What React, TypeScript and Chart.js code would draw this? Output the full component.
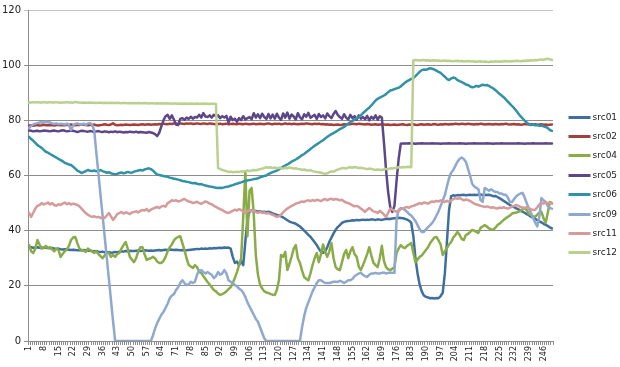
import React, { useEffect, useRef } from 'react';
import { Chart, registerables } from 'chart.js';

Chart.register(...registerables);

// 250 sample points, labelled 1..250 (every 7th label shown)
const categories: string[] = Array.from({ length: 250 }, (_, i) => String(i + 1));
const yTicks = [0, 20, 40, 60, 80, 100, 120];

const seriesNames = ['src01', 'src02', 'src04', 'src05', 'src06', 'src09', 'src11', 'src12'];
const seriesColors = ['#3F6F9E', '#A3403D', '#89AC48', '#5C4788', '#3292A5', '#8FA8CF', '#D59B9A', '#B9D08E'];

const src01 = [
  34.2, 34.0, 33.8, 33.9, 34.0, 33.8, 33.7, 33.9, 33.8, 33.7,
  33.6, 33.7, 33.5, 33.4, 33.5, 33.3, 33.2, 33.3, 33.2, 33.1,
  33.0, 33.1, 33.0, 32.9, 33.0, 32.8, 33.0, 32.9, 32.8, 32.7,
  32.6, 32.5, 32.6, 32.4, 32.3, 32.4, 32.2, 32.3, 32.2, 32.0,
  32.1, 32.3, 32.2, 32.4, 32.5, 32.4, 32.6, 32.5, 32.7, 32.6,
  32.6, 32.7, 32.8, 32.6, 32.7, 32.9, 32.8, 32.7, 32.8, 32.7,
  32.8, 32.9, 33.0, 32.8, 33.0, 33.1, 33.0, 33.2, 33.1, 33.0,
  33.1, 33.0, 32.9, 33.0, 32.8, 32.9, 33.0, 33.1, 33.2, 33.3,
  33.4, 33.3, 33.5, 33.4, 33.5, 33.4, 33.6, 33.5, 33.7, 33.6,
  33.7, 33.8, 33.7, 33.9, 33.8, 33.9, 33.5, 30.5, 28.3, 28.8,
  27.5, 29.0, 27.5, 36.0, 44.0, 47.0, 47.3, 47.0, 47.2, 46.9,
  47.0, 46.8, 46.9, 46.7, 46.9, 46.6, 46.3, 46.0, 45.7, 45.5,
  45.2, 44.8, 44.3, 43.8, 43.3, 43.0, 42.8, 42.5, 42.0, 41.5,
  40.8, 40.0, 39.3, 38.5, 37.8, 36.8, 35.8, 34.8, 33.5, 32.3,
  32.0, 32.5, 34.0, 36.0, 37.5, 39.0, 40.3, 41.3, 42.0, 42.8,
  43.2, 43.4, 43.5, 43.6, 43.8, 43.7, 43.9, 43.8, 43.9, 44.0,
  43.9, 44.0, 43.9, 44.1, 44.0, 43.9, 44.1, 44.0, 43.9, 44.1,
  44.2, 44.3, 44.2, 44.4, 44.5, 44.6, 44.7, 44.6, 44.5, 44.3,
  44.0, 43.6, 42.8, 38.0, 30.0, 24.5, 20.5, 18.0, 16.5, 16.0,
  15.8, 15.5, 15.6, 15.4, 15.6, 15.5, 16.3, 17.5, 24.5, 36.0,
  47.5, 52.5, 52.8, 52.7, 52.9, 52.8, 52.9, 53.0, 52.8, 52.9,
  53.0, 52.9, 53.0, 52.9, 53.0, 53.1, 52.9, 53.0, 52.9, 53.0,
  52.8, 52.5, 52.6, 52.2, 51.8, 51.3, 50.8, 50.3, 49.8, 49.3,
  48.9, 48.5, 48.1, 47.7, 47.3, 46.9, 46.5, 46.0, 45.6, 45.1,
  44.7, 44.3, 43.8, 43.4, 43.0, 42.5, 42.1, 41.7, 41.2, 40.8,
];

const src02 = [
  78.1, 78.2, 78.0, 78.2, 78.3, 78.1, 78.2, 78.4, 78.2, 78.3,
  78.2, 78.3, 78.1, 78.3, 78.4, 78.2, 78.3, 78.2, 78.4, 78.3,
  78.5, 78.3, 78.2, 78.4, 78.3, 78.5, 78.4, 78.3, 78.2, 78.4,
  78.3, 78.5, 78.2, 78.1, 78.3, 78.4, 78.6, 78.4, 78.3, 78.5,
  78.9, 78.4, 78.2, 78.3, 78.4, 78.3, 78.5, 78.4, 78.3, 78.4,
  78.5, 78.4, 78.3, 78.5, 78.6, 78.4, 78.5, 78.6, 78.4, 78.5,
  78.6, 78.5, 78.7, 78.6, 78.8, 78.7, 78.6, 78.8, 78.7, 78.9,
  78.8, 78.7, 78.9, 78.8, 78.7, 78.9, 78.8, 78.9, 78.7, 78.8,
  78.9, 78.8, 78.7, 78.9, 78.8, 78.7, 78.9, 78.8, 78.7, 78.6,
  78.7, 78.8, 78.6, 78.7, 78.8, 78.6, 78.7, 78.8, 78.7, 78.6,
  78.8, 78.7, 78.6, 78.8, 78.7, 78.6, 78.7, 78.8, 78.6, 78.7,
  78.8, 78.7, 78.6, 78.8, 78.9, 78.7, 78.6, 78.8, 78.7, 78.8,
  78.6, 78.7, 78.9, 78.7, 78.8, 78.6, 78.8, 78.7, 78.6, 78.7,
  78.8, 78.7, 78.9, 78.8, 78.7, 78.6, 78.8, 78.7, 78.8, 78.6,
  78.7, 78.5, 78.6, 78.4, 78.5, 78.3, 78.4, 78.5, 78.3, 78.4,
  78.6, 78.5, 78.7, 78.6, 78.8, 78.7, 78.6, 78.8, 78.7, 78.6,
  78.5, 78.7, 78.6, 78.4, 78.5, 78.6, 78.4, 78.5, 78.6, 78.5,
  78.4, 78.5, 78.3, 78.4, 78.5, 78.3, 78.4, 78.5, 78.6, 78.4,
  78.3, 78.5, 78.4, 78.6, 78.4, 78.3, 78.5, 78.6, 78.4, 78.5,
  78.6, 78.4, 78.5, 78.7, 78.5, 78.4, 78.6, 78.5, 78.7, 78.6,
  78.5, 78.7, 78.6, 78.8, 78.7, 78.6, 78.8, 78.7, 78.6, 78.8,
  78.7, 78.6, 78.5, 78.7, 78.6, 78.8, 78.7, 78.5, 78.6, 78.7,
  78.6, 78.5, 78.7, 78.6, 78.5, 78.7, 78.6, 78.8, 78.6, 78.5,
  78.6, 78.7, 78.5, 78.6, 78.4, 78.5, 78.7, 78.6, 78.5, 78.6,
  78.5, 78.6, 78.4, 78.5, 78.6, 78.4, 78.5, 78.3, 78.4, 78.5,
];

const src04 = [
  34.8, 32.5, 31.9, 33.5, 36.6, 35.0, 33.5, 33.7, 34.5, 33.7,
  34.0, 33.2, 32.5, 33.5, 33.0, 30.5, 31.5, 32.5, 33.2, 34.5,
  36.6, 37.5, 37.7, 35.5, 33.5, 33.0, 32.8, 32.3, 33.5, 33.0,
  32.5, 31.9, 32.5, 31.5, 30.8, 30.0, 31.0, 32.0, 31.9, 30.5,
  31.2, 30.5, 31.5, 31.9, 33.5, 34.8, 35.9, 33.5, 30.5, 29.5,
  28.6, 30.0, 32.5, 34.0, 34.0, 31.5, 29.4, 29.8, 30.0, 30.5,
  30.0, 28.8, 28.3, 28.3, 29.0, 30.5, 32.5, 34.0, 35.0, 36.5,
  37.3, 37.7, 38.0, 35.5, 33.0, 30.0, 27.6, 27.0, 26.5, 27.5,
  26.8, 25.0, 24.7, 23.5, 22.5, 21.4, 20.5, 19.5, 18.5, 18.0,
  17.2, 16.7, 17.0, 17.4, 18.0, 18.8, 19.5, 21.0, 22.8, 25.0,
  27.5, 30.0, 45.0, 61.3, 38.0, 54.5, 55.5, 46.0, 31.0, 24.0,
  20.5, 19.0, 18.0, 17.6, 17.4, 17.0, 16.8, 16.7, 18.5, 22.0,
  31.2, 30.5, 32.3, 25.7, 28.0, 30.5, 33.5, 34.8, 30.0, 28.3,
  25.5, 23.2, 22.5, 22.0, 24.5, 27.5, 30.0, 31.9, 28.6, 31.5,
  35.0, 32.3, 30.5, 32.5, 35.5, 30.0, 26.8, 26.0, 25.7, 28.5,
  31.5, 33.0, 30.0, 32.5, 34.0, 31.5, 30.5, 27.0, 25.7, 27.5,
  29.4, 31.5, 34.0, 31.0, 28.3, 27.5, 26.8, 30.0, 34.5, 29.0,
  26.8, 26.0, 25.7, 26.2, 26.8, 32.0, 33.5, 34.8, 34.0, 33.7,
  34.5, 35.0, 35.5, 32.0, 28.6, 29.5, 30.5, 31.0, 32.0, 33.0,
  34.0, 35.5, 36.5, 37.5, 37.7, 36.5, 35.0, 31.2, 32.5, 33.7,
  35.0, 35.9, 37.5, 38.4, 39.5, 38.5, 37.0, 36.6, 38.4, 38.8,
  39.5, 40.3, 40.0, 39.5, 39.2, 41.0, 41.5, 42.0, 41.5, 40.8,
  40.5, 40.3, 41.0, 42.0, 42.5, 43.2, 43.9, 44.5, 45.0, 45.5,
  46.2, 46.4, 46.6, 46.8, 47.2, 47.8, 48.2, 47.5, 46.0, 45.7,
  45.2, 45.0, 45.8, 46.5, 46.8, 44.5, 42.8, 46.5, 50.4, 50.0,
];

const src05 = [
  76.3, 76.2, 76.0, 76.1, 76.2, 76.0, 76.1, 76.3, 76.2, 76.1,
  76.0, 76.2, 76.3, 76.1, 76.0, 76.2, 76.4, 76.2, 76.0, 76.1,
  76.3, 76.2, 76.0, 75.8, 76.0, 76.2, 76.1, 76.0, 75.9, 76.1,
  76.0, 75.8, 76.0, 76.1, 75.9, 75.8, 76.0, 75.9, 75.7, 75.9,
  75.8, 76.0, 75.7, 75.9, 75.8, 75.6, 75.8, 75.7, 75.9, 75.8,
  75.7, 75.9, 75.6, 75.8, 75.7, 75.6, 75.5, 75.8, 75.6, 75.4,
  75.0, 74.3, 75.5, 77.8, 80.0, 81.5, 82.0, 80.5, 81.8, 80.2,
  78.5, 78.3, 80.5, 80.8, 80.2, 81.0, 80.5, 81.3, 80.6, 81.2,
  81.0, 82.0, 81.0, 82.6, 81.4, 81.2, 81.8, 81.0, 82.0, 81.5,
  81.8, 80.8, 81.5, 81.0, 81.6, 79.2, 81.3, 80.1, 80.6, 79.5,
  80.8, 80.1, 81.5, 80.3, 80.8, 81.2, 80.4, 82.6, 81.0, 82.2,
  80.8, 82.4, 81.2, 80.5, 82.3, 80.7, 82.1, 80.6, 82.4, 81.0,
  80.2, 82.5, 81.0, 82.8, 80.6, 82.1, 81.4, 80.3, 82.6, 81.1,
  80.4, 82.2, 81.3, 82.7, 80.9, 81.5, 82.0, 80.5, 82.3, 81.2,
  81.8, 80.7, 82.5, 81.5, 80.8, 82.3, 83.4, 82.0, 81.2, 80.5,
  82.2, 81.0, 80.3, 82.0, 80.8, 81.5, 80.2, 81.8, 80.6, 81.2,
  80.4, 81.6, 80.0, 81.3, 80.5, 81.8, 80.2, 81.5, 81.0, 72.0,
  62.0, 54.0, 48.5, 46.8, 49.0, 58.0, 66.0, 71.5, 71.6, 71.6,
  71.6, 71.7, 71.6, 71.6, 71.5, 71.6, 71.6, 71.7, 71.6, 71.6,
  71.6, 71.6, 71.7, 71.6, 71.6, 71.6, 71.5, 71.6, 71.6, 71.6,
  71.7, 71.6, 71.6, 71.6, 71.6, 71.7, 71.6, 71.6, 71.5, 71.6,
  71.6, 71.6, 71.7, 71.6, 71.6, 71.6, 71.6, 71.6, 71.7, 71.6,
  71.6, 71.5, 71.6, 71.6, 71.6, 71.7, 71.6, 71.6, 71.6, 71.6,
  71.6, 71.6, 71.6, 71.7, 71.6, 71.6, 71.5, 71.6, 71.6, 71.6,
  71.7, 71.6, 71.6, 71.6, 71.6, 71.6, 71.7, 71.6, 71.6, 71.6,
];

const src06 = [
  74.0, 73.2, 72.6, 71.8, 71.0, 70.5, 70.0, 69.3, 68.6, 68.3,
  67.8, 67.4, 66.9, 66.5, 66.0, 65.6, 65.2, 64.6, 64.3, 64.0,
  63.8, 63.2, 62.5, 61.8, 61.4, 60.9, 61.2, 61.6, 62.0, 61.7,
  61.6, 61.8, 61.5, 61.7, 62.0, 61.6, 61.3, 61.0, 61.2, 60.8,
  60.6, 60.4, 60.6, 60.9, 61.1, 60.8, 61.0, 61.3, 61.1, 61.0,
  61.4, 61.6, 61.8, 62.0, 61.8, 62.2, 62.4, 62.6, 62.3, 61.8,
  61.0, 60.4, 60.2, 60.0, 59.8, 59.6, 59.5, 59.2, 59.1, 58.8,
  58.7, 58.5, 58.3, 58.0, 57.9, 57.7, 57.6, 57.4, 57.2, 57.3,
  57.0, 56.8, 56.9, 56.6, 56.4, 56.2, 56.0, 55.9, 55.7, 55.6,
  55.5, 55.6, 55.5, 55.7, 55.9, 56.0, 56.3, 56.5, 56.8, 57.0,
  57.3, 57.5, 57.8, 58.0, 58.2, 58.4, 58.5, 58.7, 58.8, 59.0,
  59.3, 59.6, 59.8, 60.0, 60.5, 60.9, 61.2, 61.5, 61.8, 62.2,
  62.7, 63.2, 63.6, 64.0, 64.5, 65.0, 65.4, 65.8, 66.3, 66.8,
  67.4, 67.8, 68.4, 69.0, 69.6, 70.2, 70.8, 71.3, 71.8, 72.3,
  72.8, 73.4, 74.0, 74.5, 75.0, 75.4, 75.8, 76.3, 76.8, 77.2,
  77.6, 78.2, 78.8, 79.4, 79.8, 80.3, 80.8, 81.2, 81.8, 82.6,
  83.3, 84.0, 84.6, 85.4, 86.3, 87.2, 87.8, 88.2, 88.6, 89.0,
  89.5, 90.2, 90.8, 91.0, 91.3, 91.6, 91.8, 92.3, 93.0, 93.6,
  94.2, 94.6, 95.0, 95.3, 96.0, 96.8, 97.6, 98.2, 98.4, 98.3,
  98.6, 98.9, 98.7, 98.4, 98.0, 97.6, 97.2, 96.5, 95.8, 95.0,
  94.6, 95.2, 95.5, 95.3, 94.6, 94.2, 93.9, 93.5, 93.0, 92.8,
  92.3, 92.0, 92.1, 92.5, 92.2, 92.6, 92.9, 92.7, 92.8, 92.5,
  92.0, 91.6, 91.0, 90.3, 89.6, 89.0, 88.4, 87.6, 86.8, 86.0,
  85.2, 84.4, 83.5, 82.5, 81.5, 80.7, 79.9, 79.2, 78.6, 78.3,
  78.5, 78.2, 78.3, 78.0, 78.1, 77.8, 77.6, 77.2, 76.5, 76.2,
];

const src09 = [
  77.2, 78.0, 78.5, 78.8, 79.0, 79.2, 79.3, 79.2, 79.5, 79.4,
  79.2, 78.9, 78.7, 78.9, 78.6, 78.8, 78.7, 78.5, 78.8, 78.3,
  76.5, 78.2, 78.7, 78.9, 78.6, 78.4, 78.8, 78.3, 78.9, 79.0,
  78.5, 76.5, 68.6, 61.0, 53.2, 45.6, 38.0, 30.2, 22.6, 14.9,
  7.2, 0, 0, 0, 0, 0, 0, 0, 0, 0,
  0, 0, 0, 0, 0, 0, 0, 0, 0, 2.0,
  4.5, 6.5, 8.0, 9.5, 10.5, 12.0, 13.5, 15.5, 16.5, 17.0,
  18.5, 19.5, 21.0, 22.0, 21.0, 20.3, 20.5, 21.5, 21.0, 21.5,
  24.0, 25.5, 25.7, 25.0, 24.5, 25.0, 24.5, 24.0, 22.8, 23.5,
  25.0, 24.0, 24.5, 25.7, 24.5, 22.0, 21.5, 21.0, 20.3, 19.8,
  19.0, 18.5, 17.5, 16.0, 14.0, 12.5, 11.0, 9.5, 8.0, 7.0,
  5.0, 3.0, 1.0, 0, 0, 0, 0, 0, 0, 0,
  0, 0, 0, 0, 0, 0, 0, 0, 0, 0,
  5.0, 9.0, 12.0, 14.0, 16.0, 18.0, 19.5, 21.0, 22.0, 22.0,
  21.5, 21.0, 21.0, 21.0, 21.2, 21.5, 21.5, 21.4, 21.8, 21.5,
  21.0, 21.5, 22.0, 22.0, 22.5, 23.5, 24.0, 24.5, 24.7, 24.0,
  23.5, 23.2, 24.0, 24.5, 24.5, 24.7, 24.5, 24.5, 24.7, 24.8,
  24.5, 24.7, 24.8, 24.7, 24.7, 44.0, 47.5, 48.2, 48.0, 47.5,
  46.8, 46.0, 45.5, 44.5, 43.5, 42.0, 40.5, 39.5, 39.5, 40.5,
  41.3, 42.0, 42.8, 44.0, 45.5, 47.0, 49.0, 51.0, 52.9, 56.0,
  59.0, 61.0, 62.0, 63.5, 65.0, 66.0, 66.5, 66.0, 65.0, 62.5,
  60.0, 57.0, 56.0, 55.5, 55.0, 51.0, 50.5, 55.5, 55.0, 54.5,
  55.0, 54.5, 54.0, 54.0, 53.5, 53.5, 53.0, 53.0, 52.0, 50.5,
  50.4, 51.5, 52.5, 53.0, 53.5, 53.7, 52.0, 50.0, 48.0, 46.5,
  44.6, 43.0, 41.5, 45.0, 51.8, 51.0, 50.4, 49.0, 48.2, 48.0,
];

const src11 = [
  46.5, 45.0, 46.5, 48.0, 49.0, 49.3, 50.0, 49.5, 49.8, 50.2,
  49.5, 50.0, 49.3, 49.0, 49.6, 49.3, 49.8, 50.2, 49.6, 50.0,
  49.5, 49.8, 49.6, 49.3, 48.8, 48.0, 47.2, 46.4, 45.8, 45.3,
  45.0, 45.2, 44.9, 45.0, 44.6, 44.8, 44.6, 45.5, 46.4, 45.2,
  43.9, 44.8, 46.0, 46.4, 46.8, 46.2, 46.6, 46.4, 46.0, 46.6,
  46.8, 47.0, 46.6, 47.2, 47.5, 47.3, 47.8, 47.0, 47.6, 48.0,
  48.3, 48.6, 48.2, 48.8, 49.0, 48.7, 50.0, 50.4, 51.0, 50.8,
  51.0, 50.6, 50.8, 51.2, 51.5, 51.0, 50.6, 50.4, 50.0, 50.2,
  50.5, 50.0, 49.7, 50.2, 50.6, 50.3, 49.8, 49.6, 49.0, 48.6,
  48.2, 47.8, 47.5, 47.0, 46.6, 46.4, 46.8, 47.2, 47.6, 47.3,
  47.8, 47.5, 47.0, 46.5, 47.2, 47.5, 47.0, 47.3, 46.8, 46.4,
  46.8, 46.4, 46.6, 46.2, 46.4, 46.0, 45.8, 45.4, 45.0, 45.2,
  45.8, 46.6, 47.4, 48.0, 48.5, 49.0, 49.3, 49.8, 50.0, 50.3,
  50.6, 50.4, 50.8, 51.0, 50.7, 51.1, 50.8, 51.2, 51.0, 50.7,
  51.2, 51.5, 51.0, 51.4, 51.6, 51.2, 51.5, 51.3, 51.0, 51.2,
  50.6, 50.2, 50.0, 49.6, 49.2, 48.8, 49.0, 48.6, 48.0, 47.5,
  46.8, 47.6, 48.2, 47.6, 47.0, 46.8, 46.4, 47.2, 46.6, 45.8,
  45.0, 46.4, 48.0, 47.6, 47.2, 46.8, 47.2, 47.8, 48.0, 48.4,
  48.6, 48.3, 48.8, 49.0, 49.3, 49.6, 50.0, 49.7, 50.2, 50.0,
  49.8, 50.3, 50.6, 50.4, 50.8, 50.6, 51.0, 50.7, 50.4, 50.8,
  50.4, 51.0, 51.4, 51.8, 51.5, 51.8, 51.4, 51.0, 51.3, 51.1,
  50.8, 50.3, 49.8, 49.5, 49.3, 49.0, 48.8, 48.6, 48.8, 48.6,
  48.3, 48.5, 48.2, 48.0, 48.4, 48.2, 48.5, 48.2, 48.0, 48.3,
  48.8, 49.0, 49.3, 49.0, 48.6, 48.4, 48.2, 48.5, 48.2, 47.8,
  47.5, 47.6, 48.5, 49.5, 50.0, 49.8, 50.2, 50.0, 50.0, 49.8,
];

const src12 = [
  86.5, 86.5, 86.6, 86.5, 86.6, 86.5, 86.5, 86.6, 86.5, 86.5,
  86.6, 86.5, 86.5, 86.6, 86.5, 86.4, 86.5, 86.5, 86.6, 86.5,
  86.5, 86.4, 86.7, 86.5, 86.5, 86.4, 86.5, 86.4, 86.4, 86.5,
  86.4, 86.4, 86.3, 86.4, 86.4, 86.3, 86.4, 86.3, 86.3, 86.4,
  86.3, 86.3, 86.4, 86.3, 86.2, 86.3, 86.3, 86.2, 86.3, 86.2,
  86.3, 86.2, 86.3, 86.2, 86.2, 86.3, 86.2, 86.1, 86.2, 86.2,
  86.1, 86.2, 86.1, 86.2, 86.1, 86.1, 86.2, 86.1, 86.0, 86.1,
  86.1, 86.0, 86.1, 86.0, 86.1, 86.0, 86.0, 86.1, 86.0, 86.0,
  86.1, 86.0, 86.0, 86.1, 86.0, 86.0, 85.9, 86.0, 86.0, 85.9,
  62.7, 62.4, 62.0, 61.8, 61.6, 61.3, 61.4, 61.2, 61.3, 61.4,
  61.3, 61.5, 61.4, 61.6, 61.8, 61.6, 61.8, 62.0, 61.9, 62.1,
  62.3, 62.5, 62.7, 63.0, 62.8, 63.0, 62.7, 62.9, 62.6, 62.8,
  62.7, 62.5, 62.8, 62.6, 62.9, 62.7, 62.5, 62.6, 62.4, 62.3,
  62.0, 62.2, 61.9, 61.8, 62.0, 61.6, 61.4, 61.3, 61.2, 61.0,
  60.8, 60.6, 60.8, 61.2, 61.5, 61.4, 61.8, 62.1, 62.4, 62.6,
  62.7, 62.5, 62.9, 63.0, 62.8, 63.1, 62.9, 62.7, 62.8, 62.6,
  62.5, 62.3, 62.5, 62.4, 62.2, 62.0, 62.2, 62.1, 62.0, 62.2,
  62.4, 62.3, 62.6, 62.5, 62.7, 62.8, 63.0, 62.9, 63.1, 63.0,
  63.1, 63.2, 63.0, 101.8, 101.9, 101.8, 101.7, 101.8, 101.9, 101.7,
  101.8, 101.6, 101.7, 101.8, 101.6, 101.7, 101.5, 101.6, 101.7, 101.5,
  101.6, 101.5, 101.4, 101.5, 101.6, 101.4, 101.5, 101.3, 101.4, 101.5,
  101.4, 101.3, 101.4, 101.2, 101.3, 101.4, 101.2, 101.3, 101.2, 101.1,
  101.3, 101.2, 101.4, 101.3, 101.2, 101.4, 101.3, 101.5, 101.4, 101.3,
  101.5, 101.4, 101.6, 101.5, 101.4, 101.6, 101.5, 101.7, 101.6, 101.8,
  101.7, 101.9, 101.8, 102.0, 102.1, 101.9, 102.2, 102.3, 102.1, 101.9,
];

const seriesValues = [src01, src02, src04, src05, src06, src09, src11, src12];

const FONT = '"DejaVu Sans", "Liberation Sans", sans-serif';

const sideLegend = {
  id: 'sideLegend',
  afterDraw(chart: any) {
    const ctx = chart.ctx;
    const ds = chart.data.datasets;
    const rowH = 19.4;
    const top = chart.height / 2 + 1 - (rowH * (ds.length - 1)) / 2;
    const x0 = chart.chartArea.right + 15.5;
    ctx.save();
    ctx.font = '9px ' + FONT;
    ctx.textBaseline = 'middle';
    ctx.textAlign = 'left';
    ds.forEach((d: any, i: number) => {
      const y = Math.round(top + i * rowH) + 0.5;
      ctx.strokeStyle = d.borderColor;
      ctx.lineWidth = 3;
      ctx.lineCap = 'butt';
      ctx.beginPath();
      ctx.moveTo(x0, y);
      ctx.lineTo(x0 + 22, y);
      ctx.stroke();
      ctx.fillStyle = '#222222';
      ctx.fillText(d.label, x0 + 24, y + 0.5);
    });
    ctx.restore();
  },
};

export default function App() {
  const canvasRef = useRef<HTMLCanvasElement | null>(null);

  useEffect(() => {
    const canvas = canvasRef.current;
    if (!canvas) return;
    const n = seriesNames.length;
    const chart = new Chart(canvas, {
      type: 'line',
      data: {
        labels: categories,
        datasets: seriesNames.map((name, i) => ({
          label: name,
          data: seriesValues[i],
          borderColor: seriesColors[i],
          backgroundColor: seriesColors[i],
          borderWidth: 2.5,
          pointRadius: 0,
          pointHoverRadius: 0,
          tension: 0,
          fill: false,
          borderJoinStyle: 'round' as const,
          borderCapStyle: 'round' as const,
          order: n - 1 - i,
        })),
      },
      options: {
        responsive: false,
        animation: false,
        devicePixelRatio: 1,
        layout: { padding: { top: 10, right: 67, left: 0, bottom: 0 } },
        plugins: {
          legend: { display: false },
          tooltip: { enabled: false },
        },
        scales: {
          x: {
            type: 'category',
            offset: true,
            grid: {
              display: true,
              drawOnChartArea: false,
              drawTicks: true,
              tickLength: 4,
              color: '#8c8c8c',
              offset: true,
            },
            border: { color: '#8c8c8c' },
            ticks: {
              autoSkip: false,
              maxRotation: 90,
              minRotation: 90,
              padding: 1,
              color: '#222222',
              font: { family: FONT, size: 8 },
              callback: (_v: any, idx: number) => (idx % 7 === 0 ? categories[idx] : ''),
            },
            afterFit: (s: any) => {
              s.height = 26;
            },
          },
          y: {
            min: 0,
            max: 120,
            afterBuildTicks: (s: any) => {
              s.ticks = yTicks.map((v) => ({ value: v }));
            },
            grid: {
              color: (c: any) => (c.tick && c.tick.value === 120 ? '#c4c4c4' : '#8c8c8c'),
              tickLength: 4,
              lineWidth: 1,
            },
            border: { color: '#8c8c8c' },
            ticks: {
              padding: 3,
              color: '#222222',
              font: { family: FONT, size: 10 },
            },
            afterFit: (s: any) => {
              s.width = 28;
            },
          },
        },
      },
      plugins: [sideLegend],
    });
    return () => chart.destroy();
  }, []);

  return (
    <div style={{ position: 'absolute', left: 0, top: 0, width: 620, height: 367, background: '#ffffff' }}>
      <canvas ref={canvasRef} width={620} height={367} style={{ display: 'block' }} />
    </div>
  );
}
